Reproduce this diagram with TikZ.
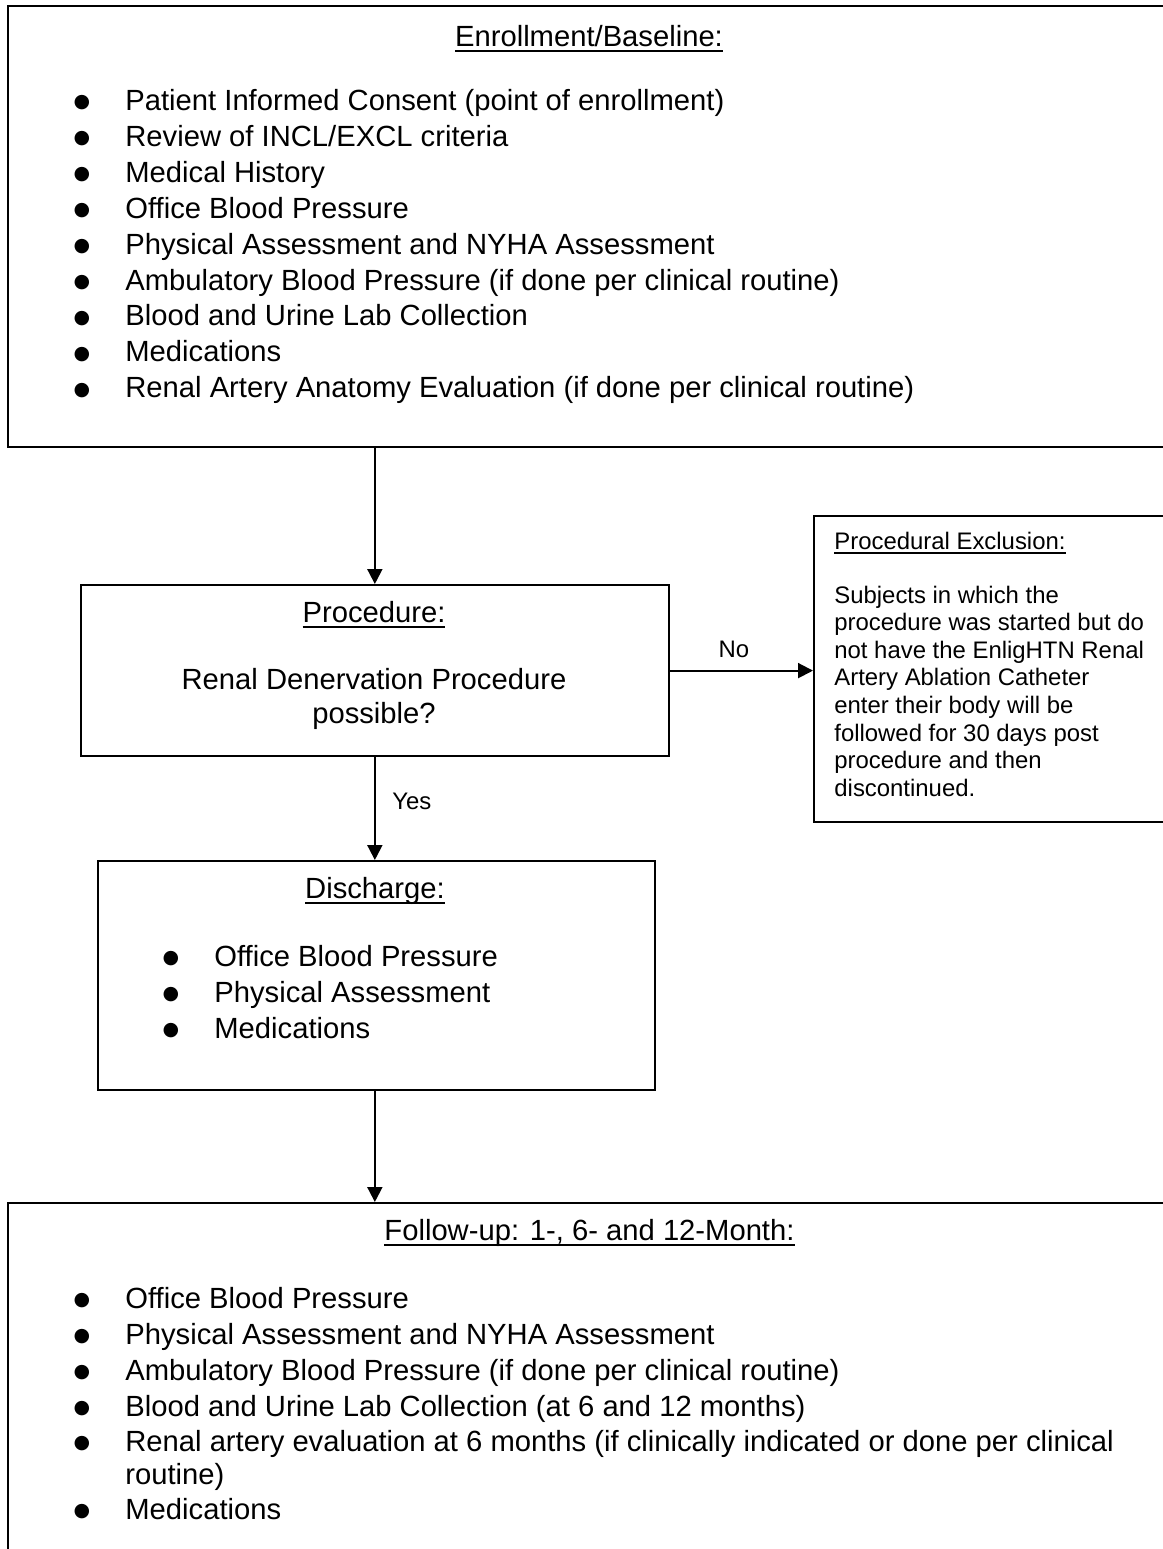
\documentclass[tikz,border=0pt]{standalone}
\usepackage{fontspec}
\setmainfont{Liberation Sans}
\newfontfamily\bulfont{DejaVu Sans}
\usetikzlibrary{arrows.meta}
\newcommand\mainsize{\fontsize{14.6pt}{18pt}\selectfont}
\newcommand\smallsz{\fontsize{11.95pt}{13.8pt}\selectfont}
\newsavebox\ulbox
\newcommand\myul[1]{\sbox\ulbox{#1}\rlap{\rule[-0.2em]{\wd\ulbox}{0.07em}}\usebox\ulbox}
\tikzset{
  box/.style={draw, line width=1.1pt, inner sep=0pt, anchor=north west},
  txt/.style={anchor=base west, inner sep=0pt, font=\mainsize},
  ttl/.style={anchor=base, inner sep=0pt, font=\mainsize},
  stxt/.style={anchor=base west, inner sep=0pt, font=\smallsz},
  lbl/.style={anchor=base, inner sep=0pt, font=\smallsz},
  bul/.style={anchor=center, inner sep=0pt, font=\bulfont\fontsize{9.5pt}{10pt}\selectfont},
  arr/.style={line width=1pt, -{Triangle[length=7.5pt,width=7.5pt]}},
}
\begin{document}
\begin{tikzpicture}[x=0.5pt,y=-0.5pt]
\useasboundingbox (0,0) rectangle (1163,1549);
\clip (0,0) rectangle (1163,1549);
\fill[white] (0,0) rectangle (1163,1549);

% boxes
\node[box, minimum width=582pt, minimum height=220.5pt] (enroll) at (7,5) {};
\node[box, minimum width=294.25pt, minimum height=85.5pt] (proc) at (79.5,584) {};
\node[box, minimum width=179pt, minimum height=153pt] (excl) at (813,515) {};
\node[box, minimum width=278.5pt, minimum height=114.5pt] (dis) at (97,860) {};
\node[box, minimum width=582pt, minimum height=199pt] (foll) at (7,1202) {};

% Enrollment
\node[ttl] (enrollT) at (589,46) {\myul{Enrollment/Baseline:}};
\foreach \t [count=\i] in {Patient Informed Consent (point of enrollment),
  Review of INCL/EXCL criteria,
  Medical History,
  Office Blood Pressure,
  Physical Assessment and NYHA Assessment,
  Ambulatory Blood Pressure (if done per clinical routine),
  Blood and Urine Lab Collection,
  Medications,
  Renal Artery Anatomy Evaluation (if done per clinical routine)}{
  \node[bul] (eb\i) at (82,{110.5+35.9*(\i-1)-7.5}) {●};
  \node[txt] (et\i) at (125,{110.5+35.9*(\i-1)}) {\t};
}

% Procedure
\node[ttl] (procT) at (374,622) {\myul{Procedure:}};
\node[ttl] (procA) at (374,689) {Renal Denervation Procedure};
\node[ttl] (procB) at (374,723) {possible?};

% Exclusion
\node[stxt] (exclT) at (834,549) {\myul{Procedural Exclusion:}};
\foreach \t [count=\i] in {Subjects in which the,
  procedure was started but do,
  not have the EnligHTN Renal,
  Artery Ablation Catheter,
  enter their body will be,
  followed for 30 days post,
  procedure and then,
  discontinued.}{
  \node[stxt] (ex\i) at (834,{603+27.6*(\i-1)}) {\t};
}

% Discharge
\node[ttl] (disT) at (375,898) {\myul{Discharge:}};
\foreach \t [count=\i] in {Office Blood Pressure,
  Physical Assessment,
  Medications}{
  \node[bul] (db\i) at (171,{966+36*(\i-1)-7.5}) {●};
  \node[txt] (dt\i) at (214,{966+36*(\i-1)}) {\t};
}

% Follow-up
\node[ttl] (follT) at (589.5,1240) {\myul{Follow-up: 1-, 6- and 12-Month:}};
\foreach \t/\y [count=\i] in {Office Blood Pressure/1308,
  Physical Assessment and NYHA Assessment/1344,
  Ambulatory Blood Pressure (if done per clinical routine)/1380,
  Blood and Urine Lab Collection (at 6 and 12 months)/1416,
  Renal artery evaluation at 6 months (if clinically indicated or done per clinical/1451,
  Medications/1519}{
  \node[bul] (fb\i) at (82,{\y-7.5}) {●};
  \node[txt] (ft\i) at (125,\y) {\t};
}
\node[txt] (ftr) at (125,1484) {routine)};

% connectors
\draw[arr] (enroll.south -| proc.north) -- (proc.north);
\draw[arr] (proc.east) -- (proc.east -| excl.west);
\draw[arr] (proc.south) -- (proc.south |- dis.north);
\draw[arr] (proc.south |- dis.south) -- (proc.south |- foll.north);
\node[lbl] (no) at (734,657) {No};
\node[stxt] (yes) at (392,809) {Yes};
\end{tikzpicture}
\end{document}
